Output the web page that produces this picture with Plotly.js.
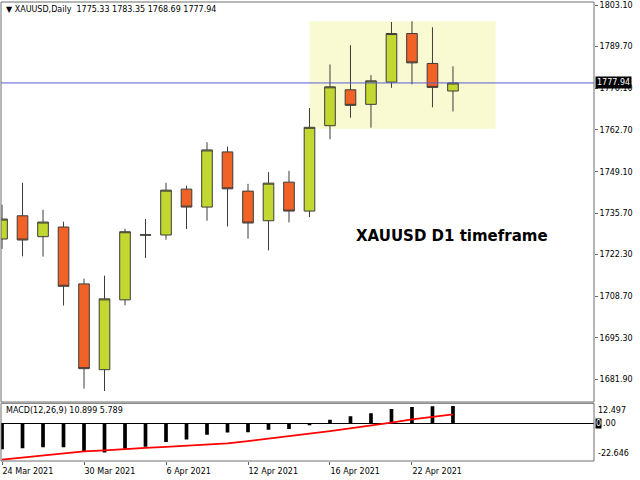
<!DOCTYPE html>
<html>
<head>
<meta charset="utf-8">
<script src="https://cdn.plot.ly/plotly-3.0.1.min.js"></script>
<style>html,body{margin:0;padding:0;background:#fff;}#chart{width:640px;height:480px;}</style>
</head>
<body>
<div id="chart"></div>
<script>
const dates = ['24 Mar 2021','25 Mar 2021','26 Mar 2021','29 Mar 2021','30 Mar 2021','31 Mar 2021','1 Apr 2021','5 Apr 2021',
  '6 Apr 2021','7 Apr 2021','8 Apr 2021','9 Apr 2021','12 Apr 2021','13 Apr 2021','14 Apr 2021','15 Apr 2021',
  '16 Apr 2021','19 Apr 2021','20 Apr 2021','21 Apr 2021','22 Apr 2021','23 Apr 2021','26 Apr 2021'];
const opens  = [1727.37,1734.90,1728.12,1731.25,1712.83,1685.03,1707.66,1728.62,1728.67,1743.53,1737.72,1755.59,1742.89,1733.29,1745.80,1736.42,1764.09,1775.73,1771.01,1778.21,1793.95,1784.26,1775.33];
const highs  = [1738.46,1745.57,1736.84,1732.97,1714.54,1715.51,1730.70,1733.84,1745.57,1744.60,1758.73,1757.30,1745.25,1749.03,1749.45,1769.81,1783.93,1790.17,1780.48,1797.70,1797.93,1795.99,1783.35];
const lows   = [1724.14,1721.75,1721.65,1705.82,1678.89,1678.12,1705.91,1721.23,1727.15,1730.61,1733.29,1731.45,1727.47,1723.69,1732.74,1734.49,1759.69,1766.68,1763.44,1776.37,1777.47,1770.04,1768.69];
const closes = [1733.84,1727.05,1732.87,1712.05,1685.36,1707.98,1729.73,1728.72,1743.21,1737.72,1756.24,1743.63,1732.55,1745.47,1736.42,1763.57,1776.69,1770.68,1778.63,1793.95,1784.45,1776.50,1777.94];
const macdMain   = [-15.5,-14.9,-14.3,-14.3,-16.6,-17.4,-15.2,-13.9,-11.1,-9.5,-6.7,-5.3,-5.1,-3.6,-3.2,-0.8,2.5,4.6,6.4,9.0,10.2,10.7,10.899];
const macdSignal = [-21.8,-20.6,-19.2,-17.8,-16.8,-16.2,-15.3,-14.7,-14.1,-13.5,-12.9,-11.9,-10.5,-9.1,-7.6,-6.0,-4.4,-2.7,-1.2,0.7,2.7,4.3,5.789];
const priceTicks = [1681.9,1695.3,1708.7,1722.3,1735.7,1749.1,1762.7,1776.1,1789.7,1803.1];
const dateTickIdx = [0,4,8,12,16,20];
const macdMax = 12.497, macdMin = -22.646;
const zoneX = [15, 24.08];
const zoneY = [1763.1, 1797.93];

const idx = dates.map((d,i)=>i);
const n = closes.length;
const FONT = 'DejaVu Sans';

const traces = [
  {
    type:'candlestick', x:idx, open:opens, high:highs, low:lows, close:closes,
    xaxis:'x', yaxis:'y', whiskerwidth:0,
    increasing:{fillcolor:'#c2d72f', line:{color:'#3c3c3c', width:1}},
    decreasing:{fillcolor:'#f16226', line:{color:'#3c3c3c', width:1}},
    hoverinfo:'skip'
  },
  {
    type:'bar', x:idx, y:macdMain, xaxis:'x', yaxis:'y2', width:0.18,
    marker:{color:'#000', line:{width:0}}, hoverinfo:'skip'
  },
  {
    type:'scatter', mode:'lines', x:idx, y:macdSignal, xaxis:'x', yaxis:'y2',
    line:{color:'#ff0000', width:1.8}, hoverinfo:'skip'
  }
];

const hdr = '▼ XAUUSD,Daily  ' + [opens[n-1],highs[n-1],lows[n-1],closes[n-1]].map(v=>v.toFixed(2)).join(' ');
const macdLbl = 'MACD(12,26,9) ' + macdMain[n-1].toFixed(3) + ' ' + macdSignal[n-1].toFixed(3);

const layout = {
  width:640, height:480,
  margin:{l:1, r:46, t:2, b:19},
  paper_bgcolor:'#fff', plot_bgcolor:'#fff',
  showlegend:false, boxgap:0.26,
  font:{family:FONT, size:8, color:'#000'},
  xaxis:{
    domain:[0,1], anchor:'y2', range:[-0.05, 28.88],
    tickvals:dateTickIdx, ticktext:dateTickIdx.map(i=>dates[i]),
    ticks:'outside', ticklen:3, tickcolor:'#666', ticklabelposition:'outside right',
    ticklabelstandoff:2,
    tickfont:{family:FONT, size:8, color:'#000'},
    showgrid:false, zeroline:false, showline:false,
    rangeslider:{visible:false}, fixedrange:true
  },
  yaxis:{
    domain:[0.1285,1], anchor:'x', side:'right', range:[1674.55,1804.17],
    tickvals:priceTicks, ticktext:priceTicks.map(v=>v.toFixed(2)),
    ticks:'outside', ticklen:3, tickcolor:'#666',
    tickfont:{family:FONT, size:8, color:'#000'},
    showgrid:false, zeroline:false, showline:false, fixedrange:true
  },
  yaxis2:{
    domain:[0,0.1257], anchor:'x', side:'right', range:[macdMin, macdMax],
    showticklabels:false, ticks:'', showgrid:false,
    zeroline:true, zerolinecolor:'#000', zerolinewidth:1, fixedrange:true
  },
  shapes:[
    {type:'rect', xref:'x', yref:'y', x0:zoneX[0], x1:zoneX[1], y0:zoneY[0], y1:zoneY[1],
     fillcolor:'#fafad2', line:{width:0}, layer:'below'},
    {type:'line', xref:'paper', yref:'y', x0:0, x1:1, y0:closes[n-1], y1:closes[n-1],
     line:{color:'#5a5ad2', width:1}, layer:'above'},
    {type:'rect', xref:'paper', yref:'y domain', x0:0, x1:1, y0:0, y1:1,
     line:{color:'#6e6e6e', width:1}, fillcolor:'rgba(0,0,0,0)'},
    {type:'rect', xref:'paper', yref:'y2 domain', x0:0, x1:1, y0:0, y1:1,
     line:{color:'#6e6e6e', width:1}, fillcolor:'rgba(0,0,0,0)'}
  ],
  annotations:[
    {xref:'paper', yref:'y domain', x:0, y:1, xanchor:'left', yanchor:'top', xshift:3, yshift:-1,
     text:hdr, showarrow:false, font:{family:FONT, size:8, color:'#000'}},
    {xref:'paper', yref:'y2 domain', x:0, y:1, xanchor:'left', yanchor:'top', xshift:3, yshift:-1,
     text:macdLbl, showarrow:false, font:{family:FONT, size:8, color:'#000'}},
    {xref:'x', yref:'y', x:21.95, y:1728.3, xanchor:'center', yanchor:'middle',
     text:'XAUUSD D1 timeframe', showarrow:false, font:{family:FONT, size:15, weight:'bold', color:'#000'}},
    {xref:'paper', yref:'y', x:1, y:closes[n-1], xanchor:'left', yanchor:'middle', xshift:1,
     text:closes[n-1].toFixed(2), showarrow:false, bgcolor:'#000', borderpad:1,
     font:{family:FONT, size:8, color:'#fff'}},
    {xref:'paper', yref:'y2 domain', x:1, y:1, xanchor:'left', yanchor:'top', xshift:2, yshift:-1,
     text:macdMax.toFixed(3), showarrow:false, font:{family:FONT, size:8, color:'#000'}},
    {xref:'paper', yref:'y2 domain', x:1, y:0, xanchor:'left', yanchor:'bottom', xshift:2, yshift:1,
     text:macdMin.toFixed(3), showarrow:false, font:{family:FONT, size:8, color:'#000'}},
    {xref:'paper', yref:'y2', x:1, y:0, xanchor:'left', yanchor:'middle', xshift:1,
     text:'0', showarrow:false, bgcolor:'#000', borderpad:0, font:{family:FONT, size:8, color:'#fff'}},
    {xref:'paper', yref:'y2', x:1, y:0, xanchor:'left', yanchor:'middle', xshift:7,
     text:'.00', showarrow:false, font:{family:FONT, size:8, color:'#000'}}
  ]
};

Plotly.newPlot('chart', traces, layout, {staticPlot:true, displayModeBar:false});
</script>
</body>
</html>
